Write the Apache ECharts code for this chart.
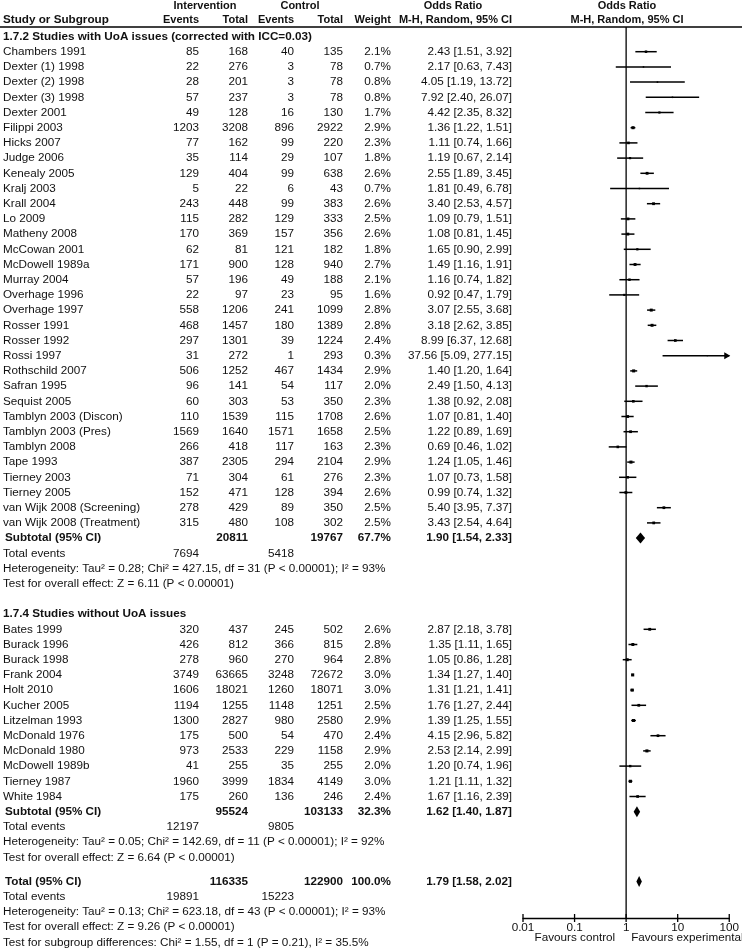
<!DOCTYPE html>
<html><head><meta charset="utf-8">
<script src="https://cdn.jsdelivr.net/npm/echarts@6/dist/echarts.min.js"></script>
<style>html,body{margin:0;padding:0;background:#fff}#c{width:742px;height:952px}</style>
</head><body><div id="c"></div>
<script>
// ---------- DATA ----------
const groupTitles = ['1.7.2 Studies with UoA issues (corrected with ICC=0.03)', '1.7.4 Studies without UoA issues'];

const names1 = ['Chambers 1991','Dexter (1) 1998','Dexter (2) 1998','Dexter (3) 1998','Dexter 2001','Filippi 2003','Hicks 2007','Judge 2006','Kenealy 2005','Kralj 2003','Krall 2004','Lo 2009','Matheny 2008','McCowan 2001','McDowell 1989a','Murray 2004','Overhage 1996','Overhage 1997','Rosser 1991','Rosser 1992','Rossi 1997','Rothschild 2007','Safran 1995','Sequist 2005','Tamblyn 2003 (Discon)','Tamblyn 2003 (Pres)','Tamblyn 2008','Tape 1993','Tierney 2003','Tierney 2005','van Wijk 2008 (Screening)','van Wijk 2008 (Treatment)'];
const intEvents1 = [85,22,28,57,49,1203,77,35,129,5,243,115,170,62,171,57,22,558,468,297,31,506,96,60,110,1569,266,387,71,152,278,315];
const intTotal1  = [168,276,201,237,128,3208,162,114,404,22,448,282,369,81,900,196,97,1206,1457,1301,272,1252,141,303,1539,1640,418,2305,304,471,429,480];
const ctlEvents1 = [40,3,3,3,16,896,99,29,99,6,99,129,157,121,128,49,23,241,180,39,1,467,54,53,115,1571,117,294,61,128,89,108];
const ctlTotal1  = [135,78,78,78,130,2922,220,107,638,43,383,333,356,182,940,188,95,1099,1389,1224,293,1434,117,350,1708,1658,163,2104,276,394,350,302];
const weight1    = [2.1,0.7,0.8,0.8,1.7,2.9,2.3,1.8,2.6,0.7,2.6,2.5,2.6,1.8,2.7,2.1,1.6,2.8,2.8,2.4,0.3,2.9,2.0,2.3,2.6,2.5,2.3,2.9,2.3,2.6,2.5,2.5];
const or1 = [2.43,2.17,4.05,7.92,4.42,1.36,1.11,1.19,2.55,1.81,3.40,1.09,1.08,1.65,1.49,1.16,0.92,3.07,3.18,8.99,37.56,1.40,2.49,1.38,1.07,1.22,0.69,1.24,1.07,0.99,5.40,3.43];
const lo1 = [1.51,0.63,1.19,2.40,2.35,1.22,0.74,0.67,1.89,0.49,2.53,0.79,0.81,0.90,1.16,0.74,0.47,2.55,2.62,6.37,5.09,1.20,1.50,0.92,0.81,0.89,0.46,1.05,0.73,0.74,3.95,2.54];
const hi1 = [3.92,7.43,13.72,26.07,8.32,1.51,1.66,2.14,3.45,6.78,4.57,1.51,1.45,2.99,1.91,1.82,1.79,3.68,3.85,12.68,277.15,1.64,4.13,2.08,1.40,1.69,1.02,1.46,1.58,1.32,7.37,4.64];
const subtotal1 = [20811, 19767, 67.7, 1.90, 1.54, 2.33];   // intTotal, ctlTotal, weight, OR, lo, hi
const totalEvents1 = [7694, 5418];
const het1 = 'Heterogeneity: Tau\u00b2 = 0.28; Chi\u00b2 = 427.15, df = 31 (P < 0.00001); I\u00b2 = 93%';
const test1 = 'Test for overall effect: Z = 6.11 (P < 0.00001)';

const names2 = ['Bates 1999','Burack 1996','Burack 1998','Frank 2004','Holt 2010','Kucher 2005','Litzelman 1993','McDonald 1976','McDonald 1980','McDowell 1989b','Tierney 1987','White 1984'];
const intEvents2 = [320,426,278,3749,1606,1194,1300,175,973,41,1960,175];
const intTotal2  = [437,812,960,63665,18021,1255,2827,500,2533,255,3999,260];
const ctlEvents2 = [245,366,270,3248,1260,1148,980,54,229,35,1834,136];
const ctlTotal2  = [502,815,964,72672,18071,1251,2580,470,1158,255,4149,246];
const weight2    = [2.6,2.8,2.8,3.0,3.0,2.5,2.9,2.4,2.9,2.0,3.0,2.4];
const or2 = [2.87,1.35,1.05,1.34,1.31,1.76,1.39,4.15,2.53,1.20,1.21,1.67];
const lo2 = [2.18,1.11,0.86,1.27,1.21,1.27,1.25,2.96,2.14,0.74,1.11,1.16];
const hi2 = [3.78,1.65,1.28,1.40,1.41,2.44,1.55,5.82,2.99,1.96,1.32,2.39];
const subtotal2 = [95524, 103133, 32.3, 1.62, 1.40, 1.87];
const totalEvents2 = [12197, 9805];
const het2 = 'Heterogeneity: Tau\u00b2 = 0.05; Chi\u00b2 = 142.69, df = 11 (P < 0.00001); I\u00b2 = 92%';
const test2 = 'Test for overall effect: Z = 6.64 (P < 0.00001)';

const overall = [116335, 122900, 100.0, 1.79, 1.58, 2.02];
const totalEventsAll = [19891, 15223];
const hetAll = 'Heterogeneity: Tau\u00b2 = 0.13; Chi\u00b2 = 623.18, df = 43 (P < 0.00001); I\u00b2 = 93%';
const testAll = 'Test for overall effect: Z = 9.26 (P < 0.00001)';
const testSub = 'Test for subgroup differences: Chi\u00b2 = 1.55, df = 1 (P = 0.21), I\u00b2 = 35.5%';

const tickVals = [0.01, 0.1, 1, 10, 100];
const tickLabels = ['0.01', '0.1', '1', '10', '100'];
const favourLabels = ['Favours control', 'Favours experimental'];

// ---------- LAYOUT ----------
const ROW_H = 15.2, FIRST_ROW_Y = 36.5, GRID_TOP = 27, AXIS_Y = 918;
const PLOT_LEFT = 523, PLOT_RIGHT = 731, W = 742, H = 952;
const Y_MIN = (GRID_TOP - FIRST_ROW_Y) / ROW_H, Y_MAX = (AXIS_Y - FIRST_ROW_Y) / ROW_H;
const COL = {name: 3, ie: 199, it: 248, ce: 294, ct: 343, w: 391, ci: 512};
const FF = '"Liberation Sans", Arial, Helvetica, sans-serif';
const FS = 11.7;
const FONT = FS + 'px ' + FF, BOLD = 'bold ' + FS + 'px ' + FF;
const HEAD = 'bold 11px ' + FF;

// ---------- ROWS ----------
const rows = [];
let r = 0;
function add(o) { o.y = r; rows.push(o); r += 1; }
function addGroup(title, names, ie, it, ce, ct, w, or, lo, hi, sub, te, het, test) {
  add({kind: 'group', text: title});
  names.forEach((n, i) => add({kind: 'study', name: n, ie: ie[i], it: it[i], ce: ce[i], ct: ct[i], w: w[i], or: or[i], lo: lo[i], hi: hi[i]}));
  add({kind: 'sub', label: 'Subtotal (95% CI)', it: sub[0], ct: sub[1], w: sub[2], or: sub[3], lo: sub[4], hi: sub[5]});
  add({kind: 'te', ie: te[0], ce: te[1]});
  add({kind: 'note', text: het});
  add({kind: 'note', text: test});
}
addGroup(groupTitles[0], names1, intEvents1, intTotal1, ctlEvents1, ctlTotal1, weight1, or1, lo1, hi1, subtotal1, totalEvents1, het1, test1);
r += 1;
addGroup(groupTitles[1], names2, intEvents2, intTotal2, ctlEvents2, ctlTotal2, weight2, or2, lo2, hi2, subtotal2, totalEvents2, het2, test2);
r += 0.6;
add({kind: 'sub', label: 'Total (95% CI)', it: overall[0], ct: overall[1], w: overall[2], or: overall[3], lo: overall[4], hi: overall[5]});
add({kind: 'te', ie: totalEventsAll[0], ce: totalEventsAll[1]});
add({kind: 'note', text: hetAll});
add({kind: 'note', text: testAll});
add({kind: 'note', text: testSub});

const fmtCI = (o) => o.or.toFixed(2) + ' [' + o.lo.toFixed(2) + ', ' + o.hi.toFixed(2) + ']';
const fmtW = (w) => w.toFixed(1) + '%';

function txt(text, x, y, align, font) {
  return {type: 'text', silent: true, style: {text: String(text), x: x, y: y, font: font, fill: '#111',
    textAlign: align, align: align, textVerticalAlign: 'middle', verticalAlign: 'middle'}};
}

const studyRows = rows.filter(o => o.kind === 'study');
const diamondRows = rows.filter(o => o.kind === 'sub');

const chart = echarts.init(document.getElementById('c'), null, {renderer: 'canvas'});

const graphic = [
  {type: 'line', silent: true, shape: {x1: 0, y1: GRID_TOP, x2: W, y2: GRID_TOP}, style: {stroke: '#000', lineWidth: 1.3}},
  txt('Intervention', 205, 6, 'center', HEAD),
  txt('Control', 300, 6, 'center', HEAD),
  txt('Odds Ratio', 453, 6, 'center', HEAD),
  txt('Odds Ratio', 627, 6, 'center', HEAD),
  txt('Study or Subgroup', COL.name, 20, 'left', BOLD),
  txt('Events', COL.ie, 20, 'right', HEAD),
  txt('Total', COL.it, 20, 'right', HEAD),
  txt('Events', COL.ce, 20, 'right', HEAD),
  txt('Total', COL.ct, 20, 'right', HEAD),
  txt('Weight', COL.w, 20, 'right', HEAD),
  txt('M-H, Random, 95% CI', COL.ci, 20, 'right', HEAD),
  txt('M-H, Random, 95% CI', 627, 20, 'center', HEAD)
];

const option = {
  animation: false,
  backgroundColor: '#fff',
  graphic: graphic,
  grid: {left: PLOT_LEFT, right: W - PLOT_RIGHT, top: GRID_TOP, bottom: H - AXIS_Y, containLabel: false},
  xAxis: {
    type: 'log', logBase: 10, min: 0.01, max: 100, position: 'bottom',
    axisLine: {show: true, onZero: false, lineStyle: {color: '#000', width: 1.3}},
    axisTick: {show: false},
    splitLine: {show: false},
    axisLabel: {color: '#111', fontSize: FS, fontFamily: FF, margin: 4,
      formatter: v => { const i = tickVals.findIndex(t => Math.abs(Math.log10(t) - Math.log10(v)) < 1e-6); return i >= 0 ? tickLabels[i] : ''; }}
  },
  yAxis: {type: 'value', inverse: true, min: Y_MIN, max: Y_MAX, show: false},
  series: [
    { // table text
      type: 'custom', silent: true, clip: false, z: 5,
      data: rows.map(o => [1, o.y]),
      renderItem: function (params, api) {
        const o = rows[params.dataIndex];
        const y = api.coord([1, o.y])[1];
        const c = [];
        if (o.kind === 'group') c.push(txt(o.text, COL.name, y, 'left', BOLD));
        else if (o.kind === 'study') {
          c.push(txt(o.name, COL.name, y, 'left', FONT));
          c.push(txt(o.ie, COL.ie, y, 'right', FONT));
          c.push(txt(o.it, COL.it, y, 'right', FONT));
          c.push(txt(o.ce, COL.ce, y, 'right', FONT));
          c.push(txt(o.ct, COL.ct, y, 'right', FONT));
          c.push(txt(fmtW(o.w), COL.w, y, 'right', FONT));
          c.push(txt(fmtCI(o), COL.ci, y, 'right', FONT));
        } else if (o.kind === 'sub') {
          c.push(txt(o.label, COL.name + 2, y, 'left', BOLD));
          c.push(txt(o.it, COL.it, y, 'right', BOLD));
          c.push(txt(o.ct, COL.ct, y, 'right', BOLD));
          c.push(txt(fmtW(o.w), COL.w, y, 'right', BOLD));
          c.push(txt(fmtCI(o), COL.ci, y, 'right', BOLD));
        } else if (o.kind === 'te') {
          c.push(txt('Total events', COL.name, y, 'left', FONT));
          c.push(txt(o.ie, COL.ie, y, 'right', FONT));
          c.push(txt(o.ce, COL.ce, y, 'right', FONT));
        } else if (o.kind === 'note') {
          c.push(txt(o.text, COL.name, y, 'left', FONT));
        }
        return {type: 'group', children: c};
      }
    },
    { // frame: null line, ticks, favours labels
      type: 'custom', silent: true, clip: false, z: 3,
      data: [[1, 0]],
      renderItem: function (params, api) {
        const top = api.coord([1, Y_MIN]);
        const bot = api.coord([1, Y_MAX]);
        const c = [{type: 'line', shape: {x1: top[0], y1: top[1], x2: bot[0], y2: bot[1]}, style: {stroke: '#000', lineWidth: 1.3}}];
        tickVals.forEach(t => {
          const p = api.coord([t, Y_MAX]);
          c.push({type: 'line', shape: {x1: p[0], y1: p[1] - 4, x2: p[0], y2: p[1] + 4}, style: {stroke: '#000', lineWidth: 1.3}});
        });
        c.push(txt(favourLabels[0], bot[0] - 11, bot[1] + 20, 'right', FONT));
        c.push(txt(favourLabels[1], bot[0] + 5, bot[1] + 20, 'left', FONT));
        return {type: 'group', children: c};
      }
    },
    { // study CIs and squares
      type: 'custom', silent: true, clip: false, z: 4,
      data: studyRows.map(o => [o.or, o.lo, o.hi, o.y, o.w]),
      renderItem: function (params, api) {
        const est = api.value(0), lo = api.value(1), hi = api.value(2), row = api.value(3), w = api.value(4);
        const xmax = 100;
        const pLo = api.coord([lo, row]);
        const pHi = api.coord([Math.min(hi, xmax), row]);
        const pE = api.coord([est, row]);
        const s = 1 + w * 0.7;
        const c = [
          {type: 'line', shape: {x1: pLo[0], y1: pLo[1], x2: pHi[0], y2: pHi[1]}, style: {stroke: '#000', lineWidth: 1.5}},
          {type: 'rect', shape: {x: pE[0] - s / 2, y: pE[1] - s / 2, width: s, height: s}, style: {fill: '#000'}}
        ];
        if (hi > xmax) {
          c.push({type: 'polygon', shape: {points: [[pHi[0] + 1, pHi[1]], [pHi[0] - 5, pHi[1] - 3.5], [pHi[0] - 5, pHi[1] + 3.5]]}, style: {fill: '#000'}});
        }
        return {type: 'group', children: c};
      }
    },
    { // diamonds
      type: 'custom', silent: true, clip: false, z: 4,
      data: diamondRows.map(o => [o.or, o.lo, o.hi, o.y]),
      renderItem: function (params, api) {
        const row = api.value(3);
        const pE = api.coord([api.value(0), row]);
        const pL = api.coord([api.value(1), row]);
        const pH = api.coord([api.value(2), row]);
        const h = 5.5;
        return {type: 'polygon', shape: {points: [[pL[0], pL[1]], [pE[0], pE[1] - h], [pH[0], pH[1]], [pE[0], pE[1] + h]]}, style: {fill: '#000'}};
      }
    }
  ]
};
chart.setOption(option);
</script>
</body></html>
